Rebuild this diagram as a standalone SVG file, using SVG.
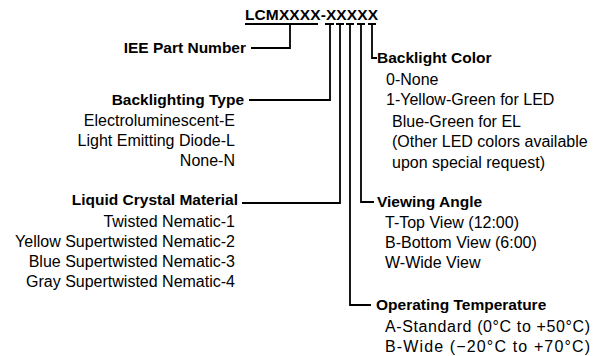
<svg xmlns="http://www.w3.org/2000/svg" width="602" height="356" viewBox="0 0 602 356">
<style>
text{font-family:"Liberation Sans",Arial,sans-serif;font-size:16px;fill:#000}
.b{font-weight:bold;font-size:15.5px}
.e{text-anchor:end}
.c{fill:none;stroke:#000;stroke-width:1.8}
</style>
<rect width="602" height="356" fill="#fff"/>
<g id="title"><text class="b" x="245" y="20" textLength="133">LCMXXXX-XXXXX</text></g>
<g id="connectors" class="c">
<path d="M245 24H318"/>
<path d="M325 24H334M336 24H344M346 24H354M357 24H365M368 24H376"/>
<path d="M290 24V48H251"/>
<path d="M330 24V100H249"/>
<path d="M340 24V203H242"/>
<path d="M350 24V305H371"/>
<path d="M361 24V202H374"/>
<path d="M372 24V58H377"/>
</g>
<g id="iee"><text class="b e" x="246" y="53">IEE Part Number</text></g>
<g id="backlighting-type">
<text class="b e" x="244" y="105">Backlighting Type</text>
<text class="e" x="235" y="126">Electroluminescent-E</text>
<text class="e" x="235" y="146">Light Emitting Diode-L</text>
<text class="e" x="235" y="166">None-N</text>
</g>
<g id="liquid-crystal">
<text class="b e" x="238" y="205">Liquid Crystal Material</text>
<text class="e" x="235" y="227">Twisted Nematic-1</text>
<text class="e" x="235" y="247">Yellow Supertwisted Nematic-2</text>
<text class="e" x="235" y="267">Blue Supertwisted Nematic-3</text>
<text class="e" x="235" y="287">Gray Supertwisted Nematic-4</text>
</g>
<g id="backlight-color">
<text class="b" x="377" y="63">Backlight Color</text>
<text x="386" y="85">0-None</text>
<text x="386" y="105">1-Yellow-Green for LED</text>
<text x="392" y="127">Blue-Green for EL</text>
<text x="392" y="147">(Other LED colors available</text>
<text x="392" y="168">upon special request)</text>
</g>
<g id="viewing-angle">
<text class="b" x="377" y="207">Viewing Angle</text>
<text x="385" y="228">T-Top View (12:00)</text>
<text x="385" y="248">B-Bottom View (6:00)</text>
<text x="385" y="268">W-Wide View</text>
</g>
<g id="operating-temperature">
<text class="b" x="376" y="310">Operating Temperature</text>
<text x="385" y="332" textLength="205">A-Standard (0°C to +50°C)</text>
<text x="385" y="352" textLength="205">B-Wide (−20°C to +70°C)</text>
</g>
</svg>
